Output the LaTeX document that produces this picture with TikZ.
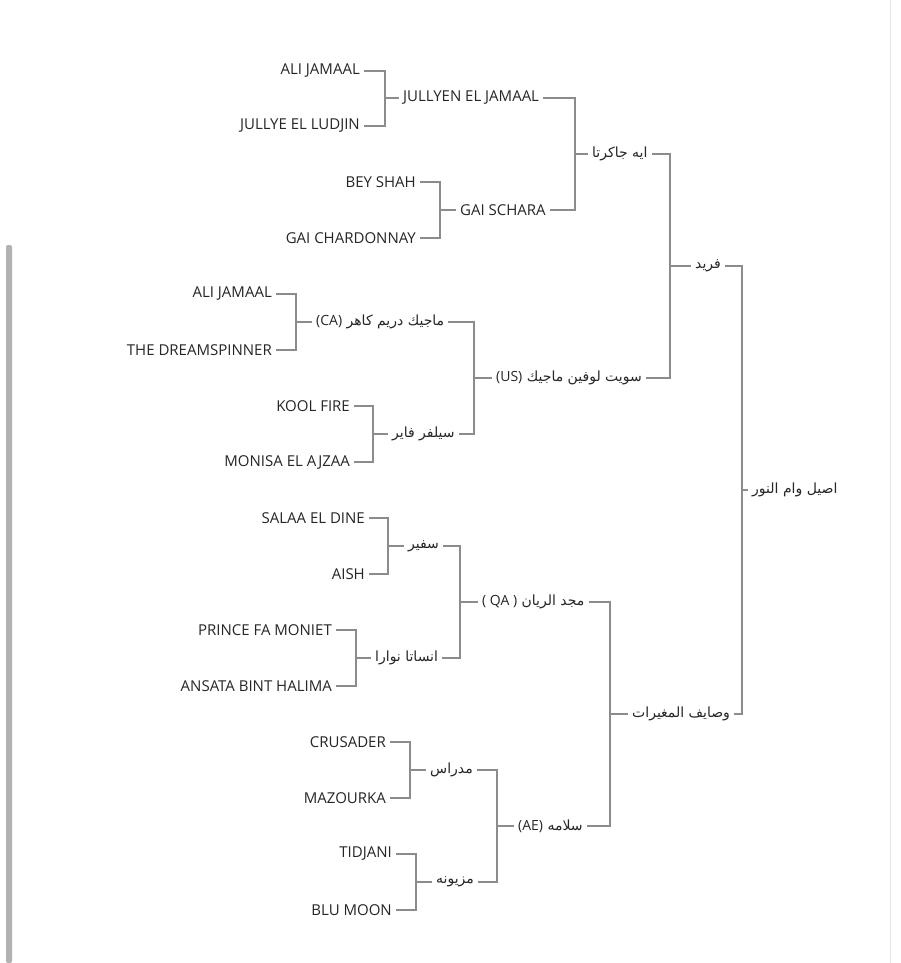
\documentclass[tikz,border=0pt]{standalone}
\usepackage{fontspec}
\setmainfont{Open Sans}
\newfontfamily\arabicfont[Script=Arabic]{DejaVu Sans}
\TeXXeTstate=1
\usepackage{tikz}
\usetikzlibrary{positioning}

\newcommand{\ar}[1]{{\arabicfont\fontsize{14}{16}\selectfont\beginR #1\endR}}
\newcommand{\lat}[1]{\beginL{\normalfont\fontsize{14}{16}\selectfont #1}\endL}
% two parents joined into one child
\newcommand{\pair}[4]{\draw[link] (#1.east) -| ([xshift=-#4]#3.west) |- (#2.east);
  \draw[link] ([xshift=-#4]#3.west) -- (#3.west);}

\begin{document}
\begin{tikzpicture}[x=1pt, y=-1pt,
        sire/.style={anchor=east, inner sep=4pt, font=\fontsize{15}{17}\selectfont, text=black!85},
        foal/.style={anchor=west, inner sep=4pt, font=\fontsize{15}{17}\selectfont, text=black!85},
        link/.style={draw=black!45, line width=1.3pt}
      ]
        \fill[white] (0,0) rectangle (900,963);
        \useasboundingbox (0,0) rectangle (900,963);
        \fill[black!30, rounded corners=2pt] (6,245) rectangle (12,963);
        \draw[black!10] (890,0) -- (890,963);

        % first tree
        \node[sire] (a1) at (364,71)  {ALI JAMAAL};
        \node[sire] (a2) at (364,126) {JULLYE EL LUDJIN};
        \node[foal] (a3) at (399,98)  {JULLYEN EL JAMAAL};
        \node[sire] (b1) at (420,182) {BEY SHAH};
        \node[sire] (b2) at (420,238) {GAI CHARDONNAY};
        \node[foal] (b3) at (456,210) {GAI SCHARA};
        \node[sire] (c1) at (276,294) {ALI JAMAAL};
        \node[sire] (c2) at (276,350) {THE DREAMSPINNER};
        \node[sire] (d1) at (354,406) {KOOL FIRE};
        \node[sire] (d2) at (354,462) {MONISA EL AJZAA};
        \node[foal] (ab) at (588,154) {\ar{ايه جاكرتا}};
        \node[foal] (c3) at (312,322) {\ar{ماجيك دريم كاهر \lat{(CA)}}};
        \node[foal] (d3) at (388,434) {\ar{سيلفر فاير}};
        \node[foal] (cd) at (492,378) {\ar{سويت لوفين ماجيك \lat{(US)}}};
        \node[foal] (sire) at (691,266) {\ar{فريد}};

        % second tree
        \node[sire] (e1) at (369,518) {SALAA EL DINE};
        \node[sire] (e2) at (369,574) {AISH};
        \node[foal] (e3) at (404,546) {\ar{سفير}};
        \node[sire] (f1) at (336,630) {PRINCE FA MONIET};
        \node[sire] (f2) at (336,686) {ANSATA BINT HALIMA};
        \node[foal] (f3) at (371,658) {\ar{انساتا نوارا}};
        \node[foal] (ef) at (478,602) {\ar{مجد الريان \lat{( QA )}}};
        \node[sire] (g1) at (390,742) {CRUSADER};
        \node[sire] (g2) at (390,798) {MAZOURKA};
        \node[foal] (g3) at (426,770) {\ar{مدراس}};
        \node[sire] (h1) at (396,854) {TIDJANI};
        \node[sire] (h2) at (396,910) {BLU MOON};
        \node[foal] (h3) at (432,882) {\ar{مزيونه}};
        \node[foal] (gh) at (514,826) {\ar{سلامه \lat{(AE)}}};
        \node[foal] (dam) at (628,714) {\ar{وصايف المغيرات}};
        \node[foal] (foal) at (748,490) {\ar{اصيل وام النور}};

        \pair{a1}{a2}{a3}{14}
        \pair{b1}{b2}{b3}{16}
        \pair{a3}{b3}{ab}{13}
        \pair{c1}{c2}{c3}{16}
        \pair{d1}{d2}{d3}{15}
        \pair{c3}{d3}{cd}{18}
        \pair{ab}{cd}{sire}{21}
        \pair{e1}{e2}{e3}{16}
        \pair{f1}{f2}{f3}{15}
        \pair{e3}{f3}{ef}{18}
        \pair{g1}{g2}{g3}{16}
        \pair{h1}{h2}{h3}{16}
        \pair{g3}{h3}{gh}{17}
        \pair{ef}{gh}{dam}{18}
        \pair{sire}{dam}{foal}{6}
      \end{tikzpicture}
\end{document}
